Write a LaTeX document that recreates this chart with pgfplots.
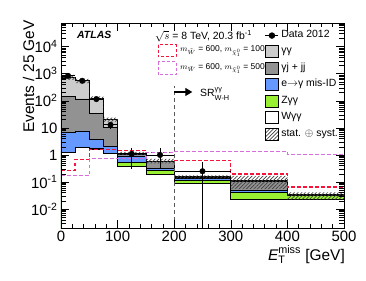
\documentclass[border=0pt]{standalone}
\usepackage{amsmath}
\usepackage{fontspec}
\setmainfont{Liberation Sans}
\usepackage{pgfplots}
\pgfplotsset{compat=1.18}
\usetikzlibrary{patterns,patterns.meta,arrows.meta}
\definecolor{lgray}{RGB}{204,204,204}
\definecolor{dgray}{RGB}{146,146,146}
\definecolor{eblue}{RGB}{102,153,255}
\definecolor{zgreen}{RGB}{153,240,51}
\definecolor{sigred}{RGB}{245,20,60}
\definecolor{sigmag}{RGB}{215,110,220}
\pgfplotsset{mybox/.style={legend image code/.code={\draw[##1, line width=0.8bp] (0bp,-6bp) rectangle (13bp,6bp);}}}
\begin{document}
\begin{tikzpicture}
\begin{axis}[
  scale only axis, width=283bp, height=205bp,
  xmin=0, xmax=500, ymode=log, ymin=0.002, ymax=7.5e4,
  axis on top,
  xtick={0,100,200,300,400,500}, xticklabels={0,100,200,300,400,500},
  minor x tick num=4,
  ytick={0.01,0.1,1,10,100,1000,10000},
  yticklabels={10\textsuperscript{-2},10\textsuperscript{-1},1,10,10\textsuperscript{2},10\textsuperscript{3},10\textsuperscript{4}},
  minor ytick={0.003,0.004,0.005,0.006,0.007,0.008,0.009,
    0.02,0.03,0.04,0.05,0.06,0.07,0.08,0.09,
    0.2,0.3,0.4,0.5,0.6,0.7,0.8,0.9,
    2,3,4,5,6,7,8,9,
    20,30,40,50,60,70,80,90,
    200,300,400,500,600,700,800,900,
    2000,3000,4000,5000,6000,7000,8000,9000,
    20000,30000,40000,50000,60000,70000},
  tick align=inside, major tick length=8bp, minor tick length=4.5bp,
  every tick/.style={black, line width=0.6bp},
  tick label style={font=\fontsize{15}{15}\selectfont},
  axis line style={line width=0.8bp},
  legend style={at={(0.721,0.968)}, anchor=north west, draw=none, fill=none,
    inner sep=0pt, outer sep=0pt, row sep=3.7bp,
    font=\fontsize{10.5}{12}\selectfont,
    nodes={inner xsep=2.5bp, inner ysep=0pt, text height=8bp, text depth=4bp}},
  legend cell align=left,
]
% stacked backgrounds (cumulative), filled from below the floor
\addplot[const plot, fill=lgray, draw=black, line width=0.8bp, forget plot] coordinates {(0,1e-4)(0,730)(25,545)(50,125)(75,20)(100,1.15)(150,0.6)(200,0.16)(300,0.11)(400,0.035)(500,0.035)(500,1e-4)};
\addplot[const plot, fill=dgray, draw=black, line width=0.8bp, forget plot] coordinates {(0,1e-4)(0,140)(25,117)(50,35)(75,10)(100,1.05)(150,0.56)(200,0.15)(300,0.105)(400,0.033)(500,0.033)(500,1e-4)};
\addplot[const plot, fill=eblue, draw=black, line width=0.8bp, forget plot] coordinates {(0,1e-4)(0,6.8)(25,7.7)(50,3.7)(75,2.1)(100,0.92)(150,0.32)(200,0.135)(300,0.047)(400,0.032)(500,0.032)(500,1e-4)};
\addplot[const plot, fill=zgreen, draw=black, line width=0.8bp, forget plot] coordinates {(0,1e-4)(0,1.25)(25,1.95)(50,1.72)(75,1.16)(100,0.52)(150,0.26)(200,0.115)(300,0.041)(400,0.031)(500,0.031)(500,1e-4)};
\addplot[const plot, fill=white, draw=black, line width=0.8bp, forget plot] coordinates {(0,1e-4)(0,1.2)(25,1.9)(50,1.65)(75,1.12)(100,0.38)(150,0.19)(200,0.09)(300,0.023)(400,0.022)(500,0.022)(500,1e-4)};
% uncertainty band
\addplot[const plot, draw=none, pattern={Lines[angle=45,distance=2.6bp,line width=0.7bp]}, pattern color=black!75, forget plot] coordinates {(0,900)(25,650)(50,145)(75,24)(100,1.3)(150,0.72)(200,0.175)(300,0.17)(400,0.041)(500,0.041)(500,0.023)(400,0.055)(300,0.137)(200,0.49)(150,1.0)(100,17)(75,110)(50,450)(25,590)(0,590)};
% signals
\addplot[const plot, draw=sigred, dash pattern=on 3.5bp off 2.5bp, line width=1.3bp, forget plot] coordinates {(0,0.27)(25,0.68)(50,1.55)(75,1.55)(100,1.5)(150,1.2)(200,0.64)(300,0.2)(400,0.065)(500,0.065)};
\addplot[const plot, draw=sigmag, dash pattern=on 3.5bp off 2.5bp, line width=1.3bp, forget plot] coordinates {(0,0.17)(25,0.17)(50,0.72)(75,0.72)(100,0.72)(150,1.25)(200,1.38)(300,1.38)(400,1.04)(500,1.04)};
% data
\addplot[only marks, mark=*, mark size=2.8bp, black, forget plot,
  error bars/.cd, x dir=both, x explicit, y dir=both, y explicit,
  error bar style={line width=0.8bp}, error mark=none]
  table[x=x, y=y, x error=ex, y error plus=ep, y error minus=em] {
x y ex ep em
12.5 835 12.5 29 29
37.5 550 12.5 23 23
62.5 116 12.5 11 11
87.5 13 12.5 3.6 3.6
125 1.1 25 0.74 0.79
175 1.0 25 0.84 0.66
250 0.25 50 0.30 0.2499
};
% legend
\addlegendimage{legend image code/.code={\draw[black, line width=0.8bp] plot[mark=*, mark size=2.8bp, mark repeat=2, mark phase=2] coordinates {(0bp,0bp)(6.5bp,0bp)(13bp,0bp)};}}
\addlegendentry{Data 2012}
\addlegendimage{mybox, fill=lgray, draw=black}
\addlegendentry{γγ}
\addlegendimage{mybox, fill=dgray, draw=black}
\addlegendentry{γj + jj}
\addlegendimage{mybox, fill=eblue, draw=black}
\addlegendentry{e$\rightarrow$γ mis-ID}
\addlegendimage{mybox, fill=zgreen, draw=black}
\addlegendentry{Zγγ}
\addlegendimage{mybox, fill=white, draw=black}
\addlegendentry{Wγγ}
\addlegendimage{mybox, pattern={Lines[angle=45,distance=2.6bp,line width=0.7bp]}, pattern color=black!75, draw=black}
\addlegendentry{stat. $\oplus$ syst.}
% region marker
\draw[black!65, dash pattern=on 4bp off 3bp, line width=1.3bp] (axis cs:200,0.002) -- (axis cs:200,353);
\draw[black, line width=1.3bp, -{Triangle[length=7bp,width=8bp]}] (axis cs:200,212) -- (axis cs:232,212);
\end{axis}
% annotations (outside the clipped axis)
\node[anchor=base west, inner sep=0pt, font=\fontsize{10.5}{12}\bfseries\itshape] at ([xshift=16bp,yshift=-16bp]current axis.north west) {ATLAS};
\node[anchor=base west, inner sep=0pt, font=\fontsize{10.5}{12}\selectfont] at ([xshift=94bp,yshift=-16.5bp]current axis.north west) {$\sqrt{s}$ = 8 TeV, 20.3 fb\textsuperscript{-1}};
\draw[sigred, dash pattern=on 3bp off 2bp, line width=1bp] ([xshift=97bp,yshift=-22bp]current axis.north west) rectangle ([xshift=115bp,yshift=-34bp]current axis.north west);
\node[anchor=west, inner sep=0pt, font=\fontsize{8.5}{10}\selectfont] at ([xshift=119bp,yshift=-28bp]current axis.north west) {$m_{\tilde{W}}$ = 600, $m_{\tilde{\chi}^{0}_{1}}$ = 100};
\draw[sigmag, dash pattern=on 3bp off 2bp, line width=1bp] ([xshift=97bp,yshift=-39bp]current axis.north west) rectangle ([xshift=115bp,yshift=-52bp]current axis.north west);
\node[anchor=west, inner sep=0pt, font=\fontsize{8.5}{10}\selectfont] at ([xshift=119bp,yshift=-45.5bp]current axis.north west) {$m_{\tilde{W}}$ = 600, $m_{\tilde{\chi}^{0}_{1}}$ = 500};
\node[anchor=base west, inner sep=0pt, font=\fontsize{10.5}{12}\selectfont] at ([xshift=139bp,yshift=-74bp]current axis.north west) {SR$^{\text{γγ}}_{\text{W-H}}$};
\node[rotate=90, anchor=base east, inner sep=0pt, font=\fontsize{15.5}{16}\selectfont] at ([xshift=-27bp,yshift=3bp]current axis.north west) {Events / 25 GeV};
\node[anchor=base east, inner sep=0pt, font=\fontsize{15.5}{16}\selectfont] at ([xshift=1bp,yshift=-32bp]current axis.south east) {$\textit{E}_{\text{T}}^{\text{miss}}$ [GeV]};
\pgfresetboundingbox
\path[use as bounding box] ([xshift=-61bp,yshift=-53bp]current axis.south west) rectangle ([xshift=22bp,yshift=23bp]current axis.north east);
\end{tikzpicture}
\end{document}
